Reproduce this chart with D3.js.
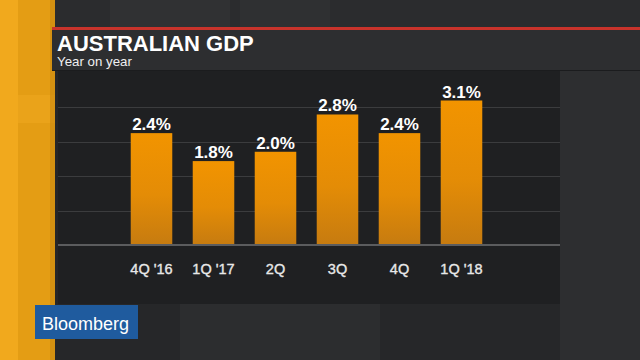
<!DOCTYPE html>
<html>
<head>
<meta charset="utf-8">
<script src="https://cdn.jsdelivr.net/npm/d3@7/dist/d3.min.js"></script>
<style>
html,body{margin:0;padding:0;background:#27282a;}
svg{display:block;}
</style>
</head>
<body>
<svg id="chart" width="640" height="360"></svg>
<script>
const categories = ["4Q '16", "1Q '17", "2Q", "3Q", "4Q", "1Q '18"];
const values = [2.4, 1.8, 2.0, 2.8, 2.4, 3.1];
const valueLabels = ["2.4%", "1.8%", "2.0%", "2.8%", "2.4%", "3.1%"];
const title = "AUSTRALIAN GDP";
const subtitle = "Year on year";
const yMax = 3.69;
const gridFractions = [0.2, 0.4, 0.6, 0.8];

const svg = d3.select("#chart");
const defs = svg.append("defs");
const FONT = "Liberation Sans, Arial, sans-serif";

const bg = defs.append("linearGradient").attr("id","bgGrad").attr("x1",0).attr("x2",1).attr("y1",0).attr("y2",0);
bg.append("stop").attr("offset","0%").attr("stop-color","#242527");
bg.append("stop").attr("offset","60%").attr("stop-color","#2a2b2d");
bg.append("stop").attr("offset","100%").attr("stop-color","#2e2f31");

const barGrad = defs.append("linearGradient").attr("id","barGrad").attr("x1",0).attr("x2",0).attr("y1",0).attr("y2",1);
barGrad.append("stop").attr("offset","0%").attr("stop-color","#f29400");
barGrad.append("stop").attr("offset","55%").attr("stop-color","#e48c06");
barGrad.append("stop").attr("offset","100%").attr("stop-color","#c67b10");

// background
svg.append("rect").attr("width",640).attr("height",360).attr("fill","url(#bgGrad)");
svg.append("rect").attr("x",55).attr("y",0).attr("width",585).attr("height",28).attr("fill","#2b2c2e");
svg.append("rect").attr("x",110).attr("y",0).attr("width",120).attr("height",28).attr("fill","#303133");
svg.append("rect").attr("x",240).attr("y",0).attr("width",90).attr("height",28).attr("fill","#2f3032");
svg.append("rect").attr("x",560).attr("y",70).attr("width",80).attr("height",290).attr("fill","#2d2e30");
svg.append("rect").attr("x",55).attr("y",304).attr("width",505).attr("height",56).attr("fill","#262729");
svg.append("rect").attr("x",180).attr("y",304).attr("width",200).attr("height",56).attr("fill","#2c2d2f");

// orange strip
svg.append("rect").attr("x",0).attr("y",0).attr("width",55).attr("height",360).attr("fill","#e49d14");
svg.append("rect").attr("x",0).attr("y",0).attr("width",18).attr("height",360).attr("fill","#f1a91d");
svg.append("rect").attr("x",18).attr("y",95).attr("width",37).attr("height",28).attr("fill","#eaa31a");
svg.append("rect").attr("x",50).attr("y",0).attr("width",5).attr("height",360).attr("fill","#c9880f").attr("opacity",0.6);

// red line
svg.append("rect").attr("x",52).attr("y",27).attr("width",588).attr("height",3).attr("fill","#c8332b");

// header panel
svg.append("rect").attr("x",52).attr("y",30).attr("width",588).attr("height",41).attr("fill","#2d2e30");
svg.append("rect").attr("x",52).attr("y",70).attr("width",588).attr("height",1).attr("fill","#1b1c1e");

// chart panel
const panel = {x:58, y:71, w:502, h:233};
svg.append("rect").attr("x",panel.x).attr("y",panel.y).attr("width",panel.w).attr("height",panel.h).attr("fill","#1f2022");

svg.append("text").attr("x",57).attr("y",50.5).text(title)
  .attr("fill","#ffffff").attr("font-family",FONT)
  .attr("font-weight","bold").attr("font-size",22);
svg.append("text").attr("x",57).attr("y",66).text(subtitle)
  .attr("fill","#f0f0f0").attr("font-family",FONT)
  .attr("font-size",13.3);

const x = d3.scaleBand().domain(categories).range([120.5, 492.5]).paddingInner(0.33).paddingOuter(0.165);
const y = d3.scaleLinear().domain([0, yMax]).range([245, 73]);

// gridlines
svg.append("g").selectAll("line").data(gridFractions).join("line")
  .attr("x1",panel.x).attr("x2",panel.x+panel.w)
  .attr("y1",d=>Math.round(y(d*yMax))+0.5).attr("y2",d=>Math.round(y(d*yMax))+0.5)
  .attr("stroke","#3b3c3e").attr("stroke-width",1);

// bars
svg.append("g").selectAll("rect").data(values).join("rect")
  .attr("x",(d,i)=>x(categories[i])).attr("width",x.bandwidth())
  .attr("y",d=>y(d)).attr("height",d=>y(0)-y(d))
  .attr("fill","url(#barGrad)");

// baseline
svg.append("rect").attr("x",panel.x).attr("y",y(0)-1).attr("width",panel.w).attr("height",2).attr("fill","#5b5c5e");

// value labels
svg.append("g").selectAll("text").data(values).join("text")
  .attr("x",(d,i)=>x(categories[i])+x.bandwidth()/2).attr("y",d=>y(d)-3)
  .attr("text-anchor","middle").text((d,i)=>valueLabels[i])
  .attr("fill","#ffffff").attr("font-family",FONT)
  .attr("font-weight","bold").attr("font-size",17);

// x axis labels
const xAxis = d3.axisBottom(x).tickSize(0).tickPadding(0);
const gx = svg.append("g").attr("transform","translate(0,273.5)").call(xAxis);
gx.select(".domain").remove();
gx.selectAll("text").attr("dy",0).attr("fill","#e8e8e8")
  .attr("stroke","#e8e8e8").attr("stroke-width",0.35)
  .attr("font-family",FONT).attr("font-size",14.5);

// Bloomberg logo
svg.append("rect").attr("x",35).attr("y",305).attr("width",103).attr("height",34).attr("fill","#1f5b9e");
svg.append("text").attr("x",42).attr("y",330).text("Bloomberg")
  .attr("fill","#ffffff").attr("font-family",FONT)
  .attr("font-size",18);
</script>
</body>
</html>
